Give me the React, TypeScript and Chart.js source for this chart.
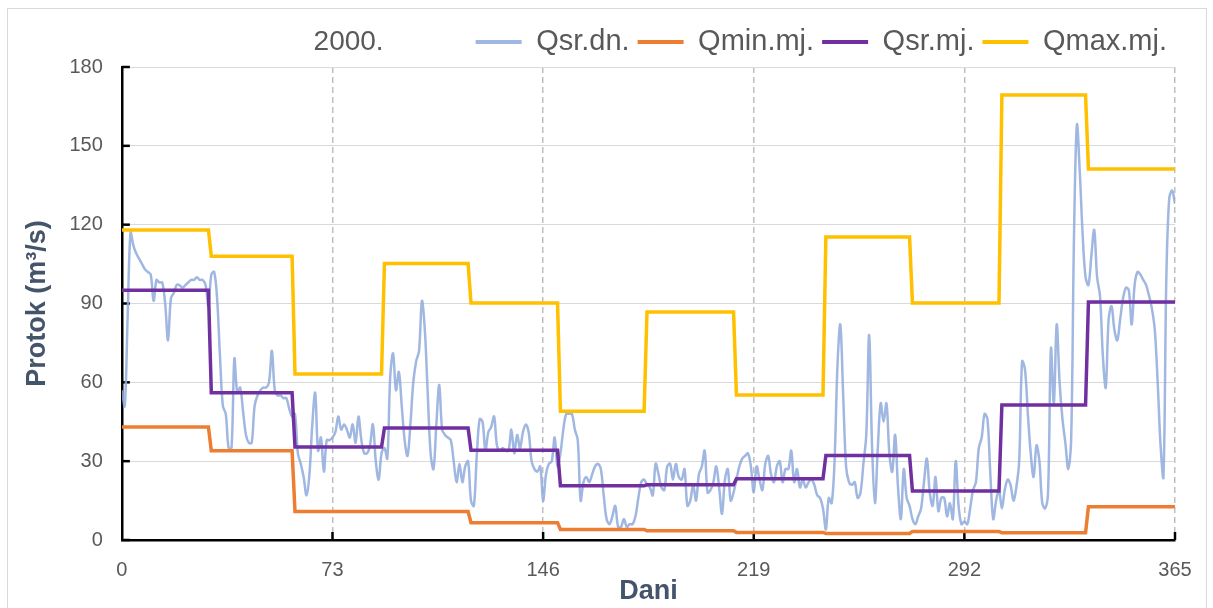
import React, { useEffect, useRef } from 'react';
import { Chart, registerables } from 'chart.js';

Chart.register(...registerables);

const FONT = '"Liberation Sans", Arial, sans-serif';

const TITLE = '2000.';
const SERIES_NAMES = ['Qsr.dn.', 'Qmin.mj.', 'Qsr.mj.', 'Qmax.mj.'];
const X_TICKS = [0, 73, 146, 219, 292, 365];
const Y_TITLE = 'Protok (m³/s)';
const X_TITLE = 'Dani';

// first and last day index of each month (2000 is a leap year)
const MONTH_START = [0, 31, 60, 91, 121, 152, 182, 213, 244, 274, 305, 335];
const MONTH_END = [30, 59, 90, 120, 151, 181, 212, 243, 273, 304, 334, 365];

const Q_MIN_MJ = [43, 34, 10.8, 10.8, 6.6, 4, 3.5, 2.9, 2.5, 3.2, 2.8, 12.7];
const Q_SR_MJ = [95, 56, 35.4, 42.6, 34.2, 20.6, 21, 23.3, 32.2, 18.6, 51.4, 90.6];
const Q_MAX_MJ = [118, 108, 63.2, 105.2, 90.2, 49, 86.8, 55.2, 115.3, 90.2, 169.3, 141.2];

const Q_SR_DN = [
  57, 51, 85, 117, 112, 109, 107, 105, 103, 102,
  101, 91, 99, 98, 98, 90, 76, 92, 94, 97,
  97, 96, 97, 98, 99, 99, 100, 99, 99, 97,
  89, 101, 102, 92, 70, 51, 48, 35, 35, 69,
  56, 58, 49, 40, 37, 37, 51, 55, 57, 58,
  58, 60, 72, 57, 55, 55, 54, 54, 50, 47,
  48, 33, 29, 24, 17, 25, 44, 56, 34, 39,
  26, 38, 38, 39, 41, 47, 42, 44, 42, 39,
  44, 37, 47, 38, 33, 33, 36, 44, 30, 23,
  33, 35, 31, 62, 71, 57, 64, 51, 38, 32,
  44, 60, 68, 72, 91, 80, 56, 33, 27, 44,
  59, 42, 40, 39, 38, 30, 22, 29, 22, 28,
  30, 15, 13, 32, 46, 45, 34, 41, 43, 47,
  36, 34, 35, 34, 34, 42, 33, 40, 35, 41,
  44, 41, 30, 27, 26, 28, 15, 25, 29, 30,
  39, 28, 33, 42, 48, 48, 48, 42, 38, 15,
  22, 24, 22, 25, 28, 29, 27, 17, 8, 6,
  9, 13, 5, 5, 8, 5, 6, 6, 9, 16,
  22, 23, 21, 20, 17, 29, 25, 20, 19, 28,
  29, 23, 29, 24, 23, 27, 13, 15, 21, 15,
  25, 28, 34, 18, 19, 22, 28, 20, 10, 23,
  27, 15, 18, 23, 28, 31, 32, 33, 28, 18,
  28, 23, 19, 29, 32, 25, 22, 28, 30, 22,
  27, 27, 34, 22, 27, 20, 23, 20, 22, 23,
  21, 17, 16, 12, 4, 16, 14, 30, 66, 82,
  55, 28, 22, 21, 22, 16, 18, 29, 40, 78,
  36, 14, 35, 52, 45, 52, 33, 26, 40, 20,
  8, 27, 16, 13, 8, 6, 9, 12, 22, 31,
  18, 13, 24, 11, 16, 16, 9, 14, 8, 30,
  13, 6, 7, 6, 12, 19, 22, 35, 39, 48,
  46, 25, 8, 15, 19, 12, 19, 23, 21, 15,
  20, 30, 68, 65, 48, 33, 24, 36, 30, 14,
  12, 18, 73, 52, 82, 60, 46, 37, 27, 38,
  116, 158, 140, 116, 100, 97, 108, 118, 100, 93,
  70, 58, 84, 89, 80, 76, 84, 92, 96, 95,
  82, 97, 102, 101, 99, 97, 93, 88, 80, 60,
  36, 24, 100, 130, 133, 128,
];

const COLORS = ['rgba(143,170,220,0.85)', '#ED7D31', '#7030A0', '#FFC000'];

function monthly(values: number[]) {
  const pts: { x: number; y: number }[] = [];
  values.forEach((v, i) => {
    pts.push({ x: MONTH_START[i], y: v });
    pts.push({ x: MONTH_END[i], y: v });
  });
  return pts;
}

const sideTitle = {
  id: 'sideTitle',
  afterDraw(chart: any) {
    const boxes = chart.legend && chart.legend.legendHitBoxes;
    if (!boxes || !boxes.length) return;
    const b = boxes[0];
    const ctx = chart.ctx;
    ctx.save();
    ctx.font = `28px ${FONT}`;
    ctx.fillStyle = '#595959';
    ctx.textAlign = 'right';
    ctx.textBaseline = 'middle';
    ctx.fillText(TITLE, b.left - 92, b.top + b.height / 2);
    ctx.restore();
  },
};

const innerTicks = {
  id: 'innerTicks',
  beforeDatasetsDraw(chart: any) {
    const { ctx, chartArea } = chart;
    const xs = chart.scales.x;
    const ys = chart.scales.y;
    ctx.save();
    ctx.strokeStyle = '#000';
    ctx.lineWidth = 2.5;
    ys.ticks.forEach((t: any) => {
      const py = ys.getPixelForValue(t.value);
      ctx.beginPath();
      ctx.moveTo(chartArea.left, py);
      ctx.lineTo(chartArea.left + 8, py);
      ctx.stroke();
    });
    xs.ticks.forEach((t: any) => {
      if (t.value === 0) return;
      const px = xs.getPixelForValue(t.value);
      ctx.beginPath();
      ctx.moveTo(px, chartArea.bottom);
      ctx.lineTo(px, chartArea.bottom - 8);
      ctx.stroke();
    });
    ctx.restore();
  },
};

const legendPad = {
  id: 'legendPad',
  beforeInit(chart: any) {
    const lg = chart.legend;
    if (!lg) return;
    const fit = lg.fit;
    lg.fit = function () {
      fit.call(this);
      this.height += 0.5;
    };
  },
};

export default function App() {
  const ref = useRef<HTMLCanvasElement | null>(null);

  useEffect(() => {
    if (!ref.current) return;
    Chart.defaults.font.family = FONT;
    const chart = new Chart(ref.current, {
      type: 'line',
      data: {
        datasets: [
          {
            label: SERIES_NAMES[0],
            data: Q_SR_DN.map((v, i) => ({ x: i, y: v })),
            borderColor: COLORS[0],
            backgroundColor: COLORS[0],
            borderWidth: 2.5,
            pointRadius: 0,
            tension: 0.35,
            order: 4,
          },
          {
            label: SERIES_NAMES[1],
            data: monthly(Q_MIN_MJ),
            borderColor: COLORS[1],
            backgroundColor: COLORS[1],
            borderWidth: 3.5,
            pointRadius: 0,
            tension: 0,
            order: 3,
          },
          {
            label: SERIES_NAMES[2],
            data: monthly(Q_SR_MJ),
            borderColor: COLORS[2],
            backgroundColor: COLORS[2],
            borderWidth: 3.5,
            pointRadius: 0,
            tension: 0,
            order: 2,
          },
          {
            label: SERIES_NAMES[3],
            data: monthly(Q_MAX_MJ),
            borderColor: COLORS[3],
            backgroundColor: COLORS[3],
            borderWidth: 3.5,
            pointRadius: 0,
            tension: 0,
            order: 1,
          },
        ],
      },
      options: {
        animation: false,
        responsive: false,
        maintainAspectRatio: false,
        layout: { padding: { left: 0, right: 38, top: 19.5, bottom: 0 } },
        plugins: {
          tooltip: { enabled: false },
          title: { display: false },
          legend: {
            display: true,
            position: 'top',
            align: 'end',
            labels: {
              boxWidth: 46,
              boxHeight: 4,
              padding: 8,
              color: '#595959',
              font: { size: 29, family: FONT },
              sort: (a: any, b: any) => a.datasetIndex - b.datasetIndex,
              generateLabels: (chart: any) =>
                (Chart.defaults.plugins.legend.labels as any)
                  .generateLabels(chart)
                  .map((l: any) => ({ ...l, lineWidth: 0, fillStyle: l.strokeStyle })),
            },
          },
        },
        scales: {
          x: {
            type: 'linear',
            min: 0,
            max: 365,
            afterBuildTicks: (scale: any) => {
              scale.ticks = X_TICKS.map((v) => ({ value: v }));
            },
            grid: {
              color: '#BFBFBF',
              lineWidth: 1.5,
              drawTicks: false,
            },
            border: { display: true, color: '#000', width: 2.5, dash: [6, 4] },
            ticks: {
              padding: 20,
              color: '#595959',
              font: { size: 20, lineHeight: 1, family: FONT },
              maxRotation: 0,
              autoSkip: false,
            },
            title: {
              display: true,
              text: X_TITLE,
              color: '#44546A',
              font: { size: 27, weight: 'bold', lineHeight: 1, family: FONT },
              padding: { top: -21.5, bottom: 2.5 },
            },
          },
          y: {
            min: 0,
            max: 180,
            ticks: {
              stepSize: 30,
              padding: 19,
              color: '#595959',
              font: { size: 20, lineHeight: 1, family: FONT },
            },
            grid: { color: '#D9D9D9', lineWidth: 1, drawTicks: false },
            border: { display: true, color: '#000', width: 2.5 },
            title: {
              display: true,
              text: Y_TITLE,
              color: '#44546A',
              font: { size: 27, weight: 'bold', lineHeight: 1, family: FONT },
              padding: { top: 24.5, bottom: -1 },
            },
          },
        },
      } as any,
      plugins: [legendPad, innerTicks, sideTitle],
    });
    return () => chart.destroy();
  }, []);

  return (
    <div
      style={{
        position: 'fixed',
        left: 0,
        top: 0,
        width: 1213,
        height: 608,
        background: '#fff',
        overflow: 'hidden',
      }}
    >
      <div
        style={{
          position: 'absolute',
          left: 7,
          top: 8,
          width: 1198,
          height: 640,
          border: '1.5px solid #D9D9D9',
        }}
      />
      <canvas
        ref={ref}
        width={1213}
        height={608}
        style={{ position: 'absolute', left: 0, top: 0, width: 1213, height: 608 }}
      />
    </div>
  );
}
